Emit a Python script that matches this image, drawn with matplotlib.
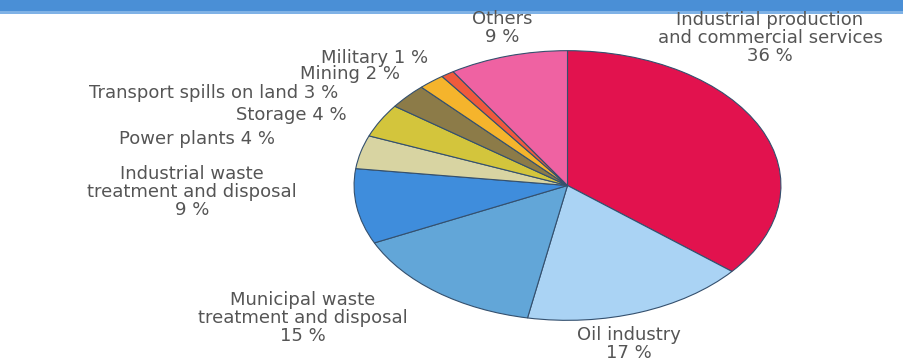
import matplotlib
matplotlib.use("Agg")
import matplotlib.pyplot as plt
from matplotlib.patches import Rectangle

categories = ["Industrial production\nand commercial services", "Oil industry",
              "Municipal waste\ntreatment and disposal", "Industrial waste\ntreatment and disposal",
              "Power plants", "Storage", "Transport spills on land", "Mining", "Military", "Others"]
values = [36, 17, 15, 9, 4, 4, 3, 2, 1, 9]
colors = ["#e2124e", "#aad3f4", "#62a6d8", "#3f8ddc", "#d8d4a2", "#d3c53c",
          "#8c7b48", "#f5b42c", "#ef5a3c", "#ef62a2"]

W, H = 915, 362
fig = plt.figure(figsize=(W / 100, H / 100), dpi=100)
fig.patch.set_facecolor("white")

# background axes in pixel coordinates
bg = fig.add_axes([0, 0, 1, 1])
bg.set_xlim(0, W)
bg.set_ylim(H, 0)
bg.axis("off")

# top blue band
bg.add_patch(Rectangle((0, 0), 903, 13, facecolor="#4a8fd6", edgecolor="none"))
bg.add_patch(Rectangle((0, 11), 903, 3, facecolor="#7fb2e6", edgecolor="none"))

# elliptical pie
left, right, top, bottom = 353, 782, 50, 321
pax = fig.add_axes([left / W, (H - bottom) / H, (right - left) / W, (bottom - top) / H])
pax.pie(values, colors=colors, startangle=90, counterclock=False, radius=1,
        wedgeprops=dict(edgecolor="#34506e", linewidth=0.8))
pax.set_aspect("auto")
pax.set_xlim(-1.005, 1.005)
pax.set_ylim(-1.005, 1.005)
pax.axis("off")

tc = "#555555"
fs = 13
kw = dict(color=tc, fontsize=fs, family="DejaVu Sans", linespacing=1.0)

def lab(i, x, y, ha="center", va="center"):
    stacked = "\n" in categories[i] or i in (0, 9, 1)
    txt = f"{categories[i]}\n{values[i]} %" if stacked else f"{categories[i]} {values[i]} %"
    bg.text(x, y, txt, ha=ha, va=va, **kw)

lab(9, 502, 28)
lab(0, 770, 38)
lab(8, 428, 58, ha="right")
lab(7, 400, 74, ha="right")
lab(6, 338, 93, ha="right")
lab(5, 347, 115, ha="right")
lab(4, 197, 139)
lab(3, 192, 192)
lab(2, 303, 318)
lab(1, 629, 344)

fig.savefig("out.png", dpi=100, facecolor="white")
